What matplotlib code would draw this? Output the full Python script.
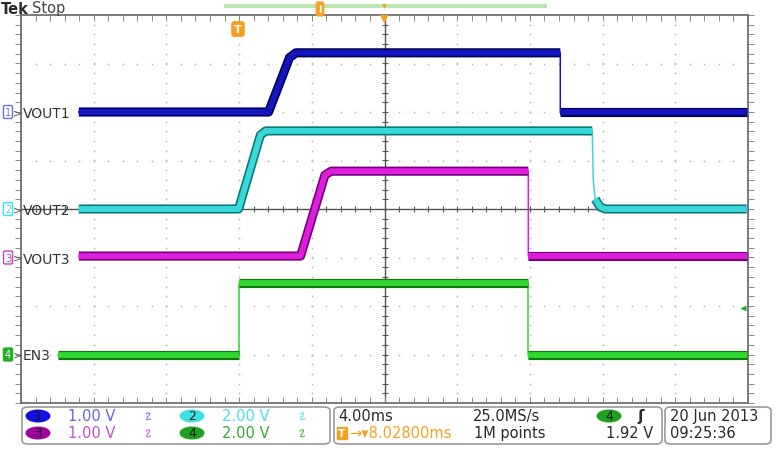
import numpy as np
import matplotlib.pyplot as plt
from matplotlib.patches import FancyBboxPatch, Ellipse

# time axis: ms relative to trigger, screen centre at the horizontal position
H_POS_MS = 8.028
MS_PER_DIV = 4.0

# channel settings (volts/div, ground marker position in divisions)
ch_names = ["VOUT1", "VOUT2", "VOUT3", "EN3"]
ch_scale = [1.0, 2.0, 1.0, 2.0]
ch_offset = [2.0, 0.0, -1.0, -3.0]

# traces (time in ms, level in volts)
vout1_t = [-8.79, 1.65, 2.80, 3.15, 17.70, 17.70, 27.95]
vout1_v = [0.0, 0.0, 1.12, 1.22, 1.22, 0.0, 0.0]

vout2_t = [-8.79, 0.00, 1.20, 1.50, 19.46, 19.51, 19.62, 19.90, 20.17, 27.95]
vout2_v = [0.0, 0.0, 3.05, 3.22, 3.22, 1.24, 0.41, 0.08, 0.0, 0.0]

vout3_t = [-8.79, 3.41, 4.75, 5.10, 15.94, 15.94, 27.95]
vout3_v = [0.03, 0.03, 1.70, 1.78, 1.78, 0.03, 0.03]

en3_t = [-9.94, 0.00, 0.00, 15.94, 15.94, 27.95]
en3_v = [0.0, 0.0, 2.95, 2.95, 0.0, 0.0]

trig_level_v = 1.92

traces = [(vout1_t, vout1_v), (vout2_t, vout2_v), (vout3_t, vout3_v), (en3_t, en3_v)]
core_colors = ["#1414c0", "#3ad8d8", "#dc1edc", "#2ed82e"]
edge_colors = ["#00005a", "#0a7a7a", "#7a007a", "#0e7a0e"]
marker_colors = ["#6a6aff", "#38e0f0", "#c040c0", "#20b020"]

W, H = 776, 464
fig = plt.figure(figsize=(W / 100, H / 100), dpi=100)
fig.patch.set_facecolor("white")

ax_l, ax_r, ax_t, ax_b = 21, 748, 16, 404
ax = fig.add_axes([ax_l / W, 1 - ax_b / H, (ax_r - ax_l) / W, (ax_b - ax_t) / H])
x0 = H_POS_MS - 5 * MS_PER_DIV
x1 = H_POS_MS + 5 * MS_PER_DIV
ax.set_xlim(x0, x1)
ax.set_ylim(-4, 4)
ax.set_xticks([])
ax.set_yticks([])
for s in ax.spines.values():
    s.set_color("#707070")
    s.set_linewidth(1.3)


def px(x, y):
    return x / W, 1 - y / H


# graticule: dotted lines at each division, dots at every 0.2 div
grid_col = "#bcbcbc"
minor_x = np.arange(x0, x1 + 1e-6, MS_PER_DIV / 5)
minor_y = np.arange(-4, 4 + 1e-6, 0.2)
for k in range(1, 10):
    if k == 5:
        continue
    gx = x0 + k * MS_PER_DIV
    ax.plot(np.full(minor_y.size, gx), minor_y, ls="none", marker="s",
            ms=1.2, mec="none", mfc=grid_col, zorder=1)
for k in range(1, 8):
    if k == 4:
        continue
    gy = -4 + k
    ax.plot(minor_x, np.full(minor_x.size, gy), ls="none", marker="s",
            ms=1.2, mec="none", mfc=grid_col, zorder=1)

# centre cross with small ticks
ax.axvline(H_POS_MS, color="#555555", lw=1.0, zorder=1)
ax.axhline(0, color="#555555", lw=1.0, zorder=1)
ax.plot(minor_x, np.zeros(minor_x.size), ls="none", marker="|", ms=5,
        mew=0.8, color="#555555", zorder=1)
ax.plot(np.full(minor_y.size, H_POS_MS), minor_y, ls="none", marker="_", ms=5,
        mew=0.8, color="#555555", zorder=1)

# border ticks
tick_col = "#8a8a8a"
ax.plot(minor_x, np.full(minor_x.size, 4), ls="none", marker=3, ms=4,
        mew=0.7, color=tick_col, clip_on=False, zorder=1)
ax.plot(minor_x, np.full(minor_x.size, -4), ls="none", marker=2, ms=4,
        mew=0.7, color=tick_col, clip_on=False, zorder=1)
ax.plot(np.full(minor_y.size, x0), minor_y, ls="none", marker=0, ms=4,
        mew=0.7, color=tick_col, clip_on=False, zorder=1)
ax.plot(np.full(minor_y.size, x1), minor_y, ls="none", marker=1, ms=4,
        mew=0.7, color=tick_col, clip_on=False, zorder=1)


def slow_segments(t, y):
    segs = []
    cur_t, cur_y = [t[0]], [y[0]]
    for i in range(len(t) - 1):
        dt = t[i + 1] - t[i]
        dy = y[i + 1] - y[i]
        if dt == 0 or abs(dy / dt) > 3.0:
            segs.append((cur_t, cur_y))
            cur_t, cur_y = [t[i + 1]], [y[i + 1]]
        else:
            cur_t.append(t[i + 1])
            cur_y.append(y[i + 1])
    segs.append((cur_t, cur_y))
    return segs


for i, (t, v) in enumerate(traces):
    y = ch_offset[i] + np.array(v) / ch_scale[i]
    ax.plot(t, y, color=core_colors[i], lw=1.1, zorder=3 + i)
    for st, sy in slow_segments(list(t), list(y)):
        if len(st) < 2:
            continue
        ax.plot(st, sy, color=edge_colors[i], lw=6.6, solid_capstyle="butt",
                solid_joinstyle="round", zorder=3 + i)
        ax.plot(st, sy, color=core_colors[i], lw=4.2, solid_capstyle="butt",
                solid_joinstyle="round", zorder=3 + i)

# trigger level arrow on the right
ax.plot([x1 - 0.25], [ch_offset[3] + trig_level_v / ch_scale[3]], marker="<",
        ms=4.5, color="#20b020", mec="none", zorder=8)

# channel ground markers and labels
for i, name in enumerate(ch_names):
    yp = ax_t + (4 - ch_offset[i]) / 8 * (ax_b - ax_t)
    fig.text(*px(8, yp), str(i + 1), ha="center", va="center", fontsize=7,
             color=marker_colors[i] if i != 3 else "white",
             bbox=dict(boxstyle="round,pad=0.15",
                       fc="#20b020" if i == 3 else "white",
                       ec=marker_colors[i], lw=1.0))
    fig.text(*px(17, yp), ">", ha="center", va="center", fontsize=8,
             color="#555555")
    fig.text(*px(23, yp + 1), name, ha="left", va="center", fontsize=10,
             color="#333333")

# top header
fig.text(*px(1, 9), "Tek", ha="left", va="center", fontsize=10.5,
         fontweight="bold", color="#2a2a2a")
fig.text(*px(32, 9), "Stop", ha="left", va="center", fontsize=10.5,
         color="#444444")
fig.lines.append(plt.Line2D([226 / W, 545 / W], [1 - 6.5 / H] * 2,
                            transform=fig.transFigure, color="#b8e6b0", lw=2.8))
fig.text(*px(320, 10), "I", ha="center", va="center", fontsize=7,
         fontweight="bold", color="white",
         bbox=dict(boxstyle="round,pad=0.2", fc="#f5a020", ec="#f5a020"))
fig.text(*px(384, 5), "\u25be", ha="center", va="center", fontsize=7,
         color="#f5a020")
fig.text(*px(384, 19), "\u25bc", ha="center", va="center", fontsize=8,
         color="#f5a020")
fig.text(*px(238, 30), "T", ha="center", va="center", fontsize=8,
         fontweight="bold", color="white",
         bbox=dict(boxstyle="round,pad=0.2", fc="#f5a020", ec="#f5a020"))

# bottom readout boxes
for bx0, bx1 in [(22, 330), (334, 662), (665, 771)]:
    fig.patches.append(FancyBboxPatch(
        (bx0 / W, 1 - 445 / H), (bx1 - bx0) / W, 37 / H,
        boxstyle="round,pad=0,rounding_size=0.008", transform=fig.transFigure,
        fc="white", ec="#9a9a9a", lw=1.2))

row1, row2 = 417, 434
ell_fc = ["#1010e0", "#40e0e0", "#a000a0", "#20a020"]
ch_text_col = ["#6464f0", "#48e0f0", "#c850c8", "#38a838"]
ch_volts = ["1.00 V", "2.00 V", "1.00 V", "2.00 V"]
slots = [(38, 68, 146, row1), (192, 222, 300, row1),
         (38, 68, 146, row2), (192, 222, 300, row2)]
for i, (ex, tx, sx, ry) in enumerate(slots):
    fig.patches.append(Ellipse(px(ex, ry), 25 / W, 13 / H,
                               transform=fig.transFigure, fc=ell_fc[i],
                               ec="none"))
    fig.text(*px(ex, ry), str(i + 1), ha="center", va="center", fontsize=9,
             color="#1a1a1a")
    fig.text(*px(tx, ry), ch_volts[i], ha="left", va="center", fontsize=10.5,
             color=ch_text_col[i])
    fig.text(*px(sx, ry), "\u223f", ha="center", va="center", fontsize=9,
             rotation=-50, color=ch_text_col[i])

txt_col = "#2a2a2a"
fig.text(*px(338, row1), "4.00ms", ha="left", va="center", fontsize=10.5,
         color=txt_col)
fig.text(*px(473, row1), "25.0MS/s", ha="left", va="center", fontsize=10.5,
         color=txt_col)
fig.patches.append(Ellipse(px(609, row1), 25 / W, 13 / H,
                           transform=fig.transFigure, fc="#20a020", ec="none"))
fig.text(*px(609, row1), "4", ha="center", va="center", fontsize=9,
         color="#1a1a1a")
fig.text(*px(641, row1), "\u0283", ha="center", va="center", fontsize=11,
         fontweight="bold", color=txt_col)
fig.text(*px(342, row2), "T", ha="center", va="center", fontsize=7.5,
         fontweight="bold", color="white",
         bbox=dict(boxstyle="square,pad=0.12", fc="#f5a020", ec="#f5a020"))
fig.text(*px(349, row2), "\u2192\u25be8.02800ms", ha="left", va="center",
         fontsize=10.5, color="#f5a020")
fig.text(*px(474, row2), "1M points", ha="left", va="center", fontsize=10.5,
         color=txt_col)
fig.text(*px(653, row2), "1.92 V", ha="right", va="center", fontsize=10.5,
         color=txt_col)
fig.text(*px(670, row1), "20 Jun 2013", ha="left", va="center", fontsize=10.5,
         color=txt_col)
fig.text(*px(670, row2), "09:25:36", ha="left", va="center", fontsize=10.5,
         color=txt_col)

fig.savefig("out.png", dpi=100)
